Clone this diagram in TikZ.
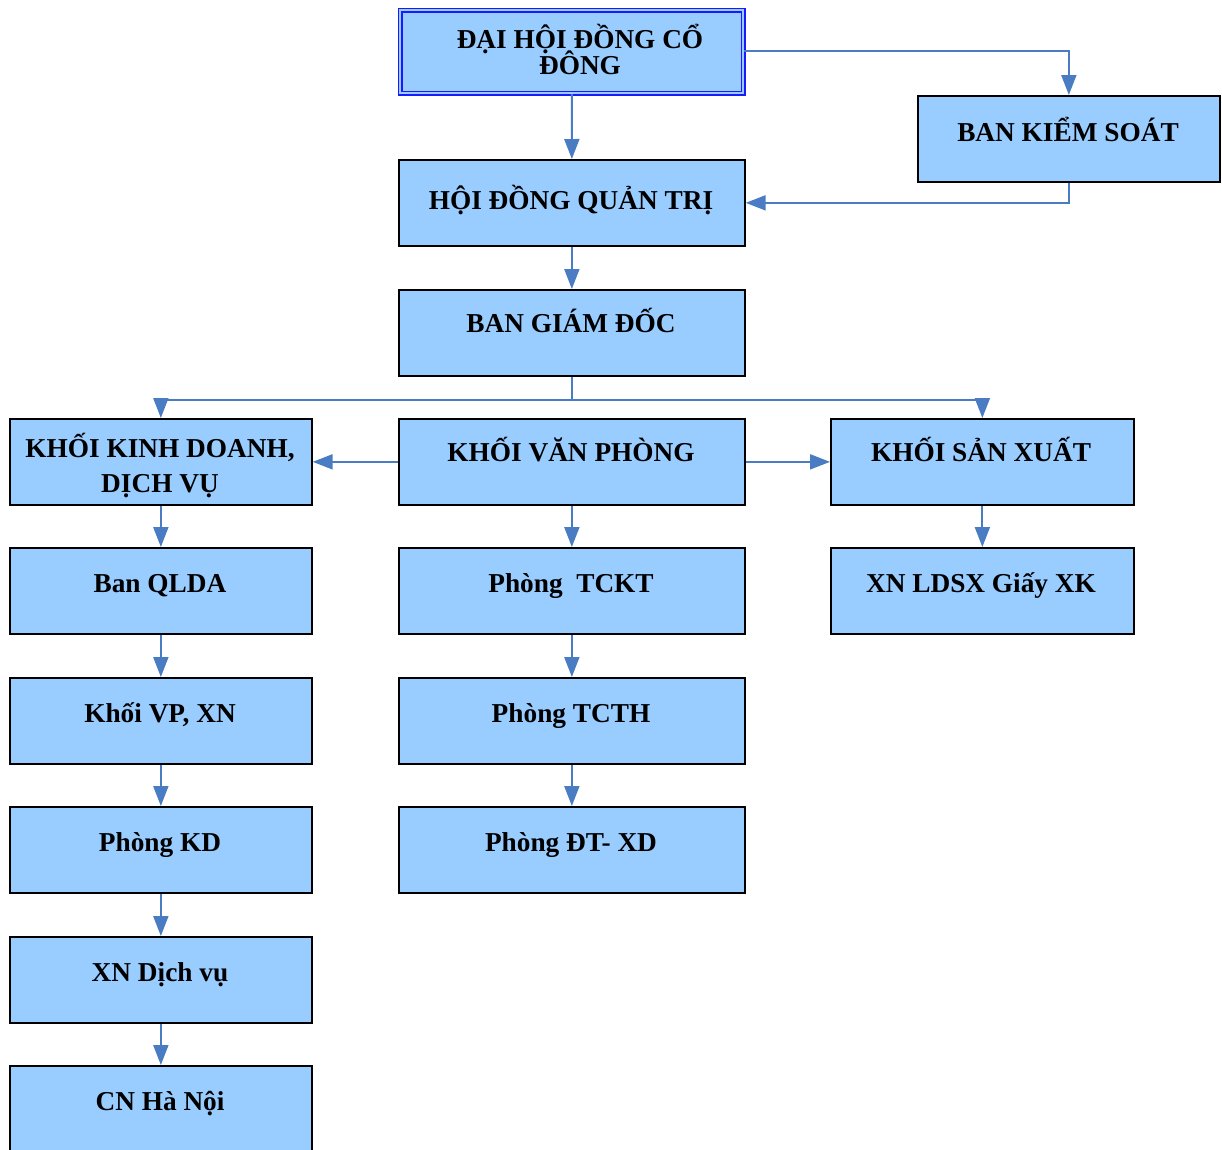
\documentclass[tikz,border=0pt]{standalone}
\usepackage{fontspec}
\setmainfont{Liberation Serif}
\usetikzlibrary{arrows.meta}
\definecolor{boxfill}{HTML}{99CCFF}
\definecolor{arrowc}{HTML}{4A7CC4}
\definecolor{dblue}{HTML}{1A1AFF}
\tikzset{
  box/.style={draw=black, line width=1.7pt, fill=boxfill, minimum width=#1, minimum height=86pt, inner sep=0pt, anchor=north west},
  box/.default=302pt,
  lbl/.style={anchor=base, font=\fontsize{27.3}{29}\selectfont\bfseries, inner sep=0pt, align=center},
  conn/.style={draw=arrowc, line width=2pt, -{Triangle[length=20pt,width=15pt]}}
}
\begin{document}
\begin{tikzpicture}[x=1pt,y=-1pt]
\useasboundingbox (0,0) rectangle (1222,1149);
% boxes
\node[draw=dblue, line width=1.5pt, double=boxfill, double distance=2.2pt, fill=boxfill, minimum width=343pt, minimum height=83pt, inner sep=0pt, anchor=north west] (dh) at (399.5,9.5) {};
\node[box] (bks) at (917,95) {};
\node[box=346pt] (hd) at (398,159) {};
\node[box=346pt] (bg) at (398,289) {};
\node[box] (kd) at (9,418) {};
\node[box=346pt] (vp) at (398,418) {};
\node[box=303pt] (sx) at (830,418) {};
\node[box] (ql) at (9,547) {};
\node[box=346pt] (tc) at (398,547) {};
\node[box=303pt] (xk) at (830,547) {};
\node[box] (kv) at (9,677) {};
\node[box=346pt] (th) at (398,677) {};
\node[box] (pk) at (9,806) {};
\node[box=346pt] (dt) at (398,806) {};
\node[box] (dv) at (9,936) {};
\node[box] (hn) at (9,1065) {};
% labels
\node[lbl] (dhl1) at (580,48) {ĐẠI HỘI ĐỒNG CỔ};
\node[lbl] (dhl2) at (580,74) {ĐÔNG};
\node[lbl] (bksl) at (1068,141) {BAN KIỂM SOÁT};
\node[lbl] (hdl) at (571,209) {HỘI ĐỒNG QUẢN TRỊ};
\node[lbl] (bgl) at (571,332) {BAN GIÁM ĐỐC};
\node[lbl] (kdl1) at (160,457) {KHỐI KINH DOANH,};
\node[lbl] (kdl2) at (160,492) {DỊCH VỤ};
\node[lbl] (vpl) at (571,461) {KHỐI VĂN PHÒNG};
\node[lbl] (sxl) at (981,461) {KHỐI SẢN XUẤT};
\node[lbl] (qll) at (160,592) {Ban QLDA};
\node[lbl] (tcl) at (571,592) {Phòng\ \ TCKT};
\node[lbl] (xkl) at (981,592) {XN LDSX Giấy XK};
\node[lbl] (kvl) at (160,722) {Khối VP, XN};
\node[lbl] (thl) at (571,722) {Phòng TCTH};
\node[lbl] (pkl) at (160,851) {Phòng KD};
\node[lbl] (dtl) at (571,851) {Phòng ĐT- XD};
\node[lbl] (dvl) at (160,981) {XN Dịch vụ};
\node[lbl] (hnl) at (160,1110) {CN Hà Nội};
% connectors
\draw[conn] (dh.south) -- (hd.north);
\draw[conn] (dh.east |- 0,51) -| (bks.north);
\draw[conn] (bks.south) |- (hd.east);
\draw[conn] (hd.south) -- (bg.north);
\draw[draw=arrowc, line width=2pt] (bg.south) -- ++(0,23) coordinate (bus);
\draw[conn] (bus) -| (kd.north);
\draw[conn] (bus) -| (sx.north);
\draw[conn] (vp.west) -- (kd.east);
\draw[conn] (vp.east) -- (sx.west);
\draw[conn] (kd.south) -- (ql.north);
\draw[conn] (ql.south) -- (kv.north);
\draw[conn] (kv.south) -- (pk.north);
\draw[conn] (pk.south) -- (dv.north);
\draw[conn] (dv.south) -- (hn.north);
\draw[conn] (vp.south) -- (tc.north);
\draw[conn] (tc.south) -- (th.north);
\draw[conn] (th.south) -- (dt.north);
\draw[conn] (sx.south) -- (xk.north);
\end{tikzpicture}
\end{document}
